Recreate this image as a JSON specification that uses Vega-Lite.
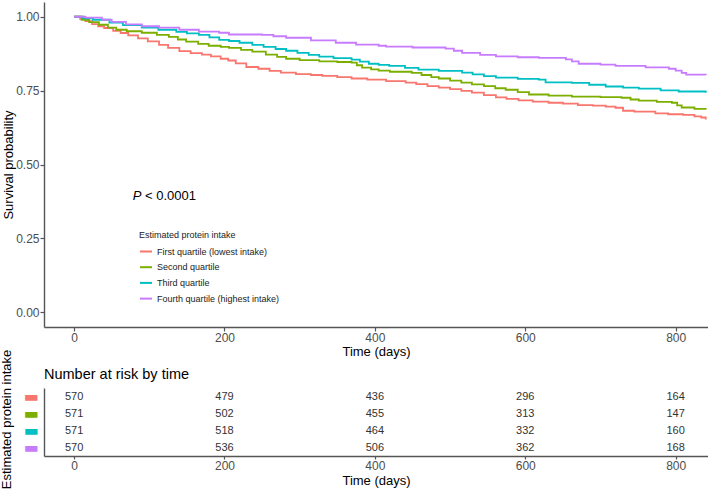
{
  "$schema": "https://vega.github.io/schema/vega-lite/v6.json",
  "padding": {"left": 0, "top": 2, "right": 0, "bottom": 0},
  "background": "white",
  "bounds": "flush",
  "spacing": 61,
  "config": {
    "font": "Liberation Sans",
    "view": {"stroke": null},
    "axis": {
      "grid": false,
      "domainColor": "#555",
      "domainWidth": 1.4,
      "tickColor": "#555",
      "tickWidth": 1.2,
      "labelColor": "#4d4d4d",
      "labelFontSize": 12,
      "labelFont": "Liberation Sans",
      "titleFont": "Liberation Sans",
      "titleFontSize": 13,
      "titleColor": "#000",
      "titleFontWeight": "normal"
    }
  },
  "datasets": {
    "surv": [
      {"g":"First quartile (lowest intake)","t":0,"s":1.0},{"g":"First quartile (lowest intake)","t":8,"s":0.993},{"g":"First quartile (lowest intake)","t":15,"s":0.985},{"g":"First quartile (lowest intake)","t":24,"s":0.975},{"g":"First quartile (lowest intake)","t":32,"s":0.968},{"g":"First quartile (lowest intake)","t":40,"s":0.962},{"g":"First quartile (lowest intake)","t":52,"s":0.952},{"g":"First quartile (lowest intake)","t":62,"s":0.945},{"g":"First quartile (lowest intake)","t":72,"s":0.937},{"g":"First quartile (lowest intake)","t":85,"s":0.927},{"g":"First quartile (lowest intake)","t":98,"s":0.917},{"g":"First quartile (lowest intake)","t":113,"s":0.905},{"g":"First quartile (lowest intake)","t":125,"s":0.895},{"g":"First quartile (lowest intake)","t":140,"s":0.884},{"g":"First quartile (lowest intake)","t":155,"s":0.877},{"g":"First quartile (lowest intake)","t":170,"s":0.872},{"g":"First quartile (lowest intake)","t":182,"s":0.866},{"g":"First quartile (lowest intake)","t":195,"s":0.858},{"g":"First quartile (lowest intake)","t":205,"s":0.852},{"g":"First quartile (lowest intake)","t":215,"s":0.842},{"g":"First quartile (lowest intake)","t":229,"s":0.830},{"g":"First quartile (lowest intake)","t":245,"s":0.824},{"g":"First quartile (lowest intake)","t":260,"s":0.817},{"g":"First quartile (lowest intake)","t":275,"s":0.811},{"g":"First quartile (lowest intake)","t":295,"s":0.806},{"g":"First quartile (lowest intake)","t":315,"s":0.803},{"g":"First quartile (lowest intake)","t":330,"s":0.800},{"g":"First quartile (lowest intake)","t":350,"s":0.796},{"g":"First quartile (lowest intake)","t":369,"s":0.791},{"g":"First quartile (lowest intake)","t":390,"s":0.787},{"g":"First quartile (lowest intake)","t":415,"s":0.782},{"g":"First quartile (lowest intake)","t":441,"s":0.777},{"g":"First quartile (lowest intake)","t":455,"s":0.772},{"g":"First quartile (lowest intake)","t":470,"s":0.765},{"g":"First quartile (lowest intake)","t":485,"s":0.760},{"g":"First quartile (lowest intake)","t":500,"s":0.755},{"g":"First quartile (lowest intake)","t":515,"s":0.749},{"g":"First quartile (lowest intake)","t":529,"s":0.743},{"g":"First quartile (lowest intake)","t":545,"s":0.735},{"g":"First quartile (lowest intake)","t":561,"s":0.727},{"g":"First quartile (lowest intake)","t":575,"s":0.722},{"g":"First quartile (lowest intake)","t":591,"s":0.717},{"g":"First quartile (lowest intake)","t":610,"s":0.713},{"g":"First quartile (lowest intake)","t":631,"s":0.709},{"g":"First quartile (lowest intake)","t":650,"s":0.706},{"g":"First quartile (lowest intake)","t":670,"s":0.701},{"g":"First quartile (lowest intake)","t":690,"s":0.699},{"g":"First quartile (lowest intake)","t":707,"s":0.696},{"g":"First quartile (lowest intake)","t":720,"s":0.692},{"g":"First quartile (lowest intake)","t":730,"s":0.682},{"g":"First quartile (lowest intake)","t":745,"s":0.679},{"g":"First quartile (lowest intake)","t":773,"s":0.673},{"g":"First quartile (lowest intake)","t":790,"s":0.670},{"g":"First quartile (lowest intake)","t":810,"s":0.668},{"g":"First quartile (lowest intake)","t":825,"s":0.663},{"g":"First quartile (lowest intake)","t":834,"s":0.659},{"g":"First quartile (lowest intake)","t":840,"s":0.652},
      {"g":"Second quartile","t":0,"s":1.0},{"g":"Second quartile","t":10,"s":0.99},{"g":"Second quartile","t":20,"s":0.982},{"g":"Second quartile","t":33,"s":0.973},{"g":"Second quartile","t":45,"s":0.963},{"g":"Second quartile","t":56,"s":0.956},{"g":"Second quartile","t":70,"s":0.951},{"g":"Second quartile","t":90,"s":0.946},{"g":"Second quartile","t":110,"s":0.939},{"g":"Second quartile","t":126,"s":0.932},{"g":"Second quartile","t":138,"s":0.923},{"g":"Second quartile","t":149,"s":0.916},{"g":"Second quartile","t":165,"s":0.908},{"g":"Second quartile","t":179,"s":0.902},{"g":"Second quartile","t":195,"s":0.898},{"g":"Second quartile","t":206,"s":0.895},{"g":"Second quartile","t":222,"s":0.888},{"g":"Second quartile","t":237,"s":0.882},{"g":"Second quartile","t":255,"s":0.872},{"g":"Second quartile","t":270,"s":0.864},{"g":"Second quartile","t":282,"s":0.858},{"g":"Second quartile","t":300,"s":0.853},{"g":"Second quartile","t":326,"s":0.849},{"g":"Second quartile","t":350,"s":0.847},{"g":"Second quartile","t":369,"s":0.845},{"g":"Second quartile","t":376,"s":0.836},{"g":"Second quartile","t":383,"s":0.828},{"g":"Second quartile","t":395,"s":0.822},{"g":"Second quartile","t":405,"s":0.818},{"g":"Second quartile","t":420,"s":0.814},{"g":"Second quartile","t":449,"s":0.810},{"g":"Second quartile","t":462,"s":0.803},{"g":"Second quartile","t":475,"s":0.796},{"g":"Second quartile","t":485,"s":0.791},{"g":"Second quartile","t":500,"s":0.784},{"g":"Second quartile","t":515,"s":0.777},{"g":"Second quartile","t":529,"s":0.771},{"g":"Second quartile","t":545,"s":0.765},{"g":"Second quartile","t":560,"s":0.758},{"g":"Second quartile","t":574,"s":0.753},{"g":"Second quartile","t":590,"s":0.745},{"g":"Second quartile","t":605,"s":0.737},{"g":"Second quartile","t":631,"s":0.733},{"g":"Second quartile","t":662,"s":0.730},{"g":"Second quartile","t":700,"s":0.728},{"g":"Second quartile","t":728,"s":0.726},{"g":"Second quartile","t":740,"s":0.720},{"g":"Second quartile","t":751,"s":0.716},{"g":"Second quartile","t":775,"s":0.712},{"g":"Second quartile","t":795,"s":0.709},{"g":"Second quartile","t":802,"s":0.700},{"g":"Second quartile","t":808,"s":0.693},{"g":"Second quartile","t":825,"s":0.688},{"g":"Second quartile","t":840,"s":0.686},
      {"g":"Third quartile","t":0,"s":1.0},{"g":"Third quartile","t":12,"s":0.995},{"g":"Third quartile","t":25,"s":0.99},{"g":"Third quartile","t":47,"s":0.980},{"g":"Third quartile","t":65,"s":0.972},{"g":"Third quartile","t":90,"s":0.963},{"g":"Third quartile","t":112,"s":0.956},{"g":"Third quartile","t":136,"s":0.949},{"g":"Third quartile","t":150,"s":0.944},{"g":"Third quartile","t":166,"s":0.939},{"g":"Third quartile","t":180,"s":0.930},{"g":"Third quartile","t":193,"s":0.922},{"g":"Third quartile","t":206,"s":0.918},{"g":"Third quartile","t":220,"s":0.912},{"g":"Third quartile","t":237,"s":0.905},{"g":"Third quartile","t":252,"s":0.898},{"g":"Third quartile","t":268,"s":0.891},{"g":"Third quartile","t":282,"s":0.885},{"g":"Third quartile","t":297,"s":0.878},{"g":"Third quartile","t":312,"s":0.871},{"g":"Third quartile","t":326,"s":0.865},{"g":"Third quartile","t":345,"s":0.860},{"g":"Third quartile","t":369,"s":0.855},{"g":"Third quartile","t":380,"s":0.848},{"g":"Third quartile","t":392,"s":0.841},{"g":"Third quartile","t":405,"s":0.837},{"g":"Third quartile","t":419,"s":0.834},{"g":"Third quartile","t":440,"s":0.827},{"g":"Third quartile","t":458,"s":0.821},{"g":"Third quartile","t":485,"s":0.817},{"g":"Third quartile","t":516,"s":0.811},{"g":"Third quartile","t":530,"s":0.805},{"g":"Third quartile","t":545,"s":0.799},{"g":"Third quartile","t":561,"s":0.794},{"g":"Third quartile","t":590,"s":0.790},{"g":"Third quartile","t":618,"s":0.787},{"g":"Third quartile","t":627,"s":0.778},{"g":"Third quartile","t":662,"s":0.776},{"g":"Third quartile","t":685,"s":0.770},{"g":"Third quartile","t":707,"s":0.764},{"g":"Third quartile","t":730,"s":0.760},{"g":"Third quartile","t":751,"s":0.757},{"g":"Third quartile","t":780,"s":0.751},{"g":"Third quartile","t":804,"s":0.747},{"g":"Third quartile","t":840,"s":0.743},
      {"g":"Fourth quartile (highest intake)","t":0,"s":1.0},{"g":"Fourth quartile (highest intake)","t":15,"s":0.997},{"g":"Fourth quartile (highest intake)","t":37,"s":0.990},{"g":"Fourth quartile (highest intake)","t":50,"s":0.983},{"g":"Fourth quartile (highest intake)","t":69,"s":0.974},{"g":"Fourth quartile (highest intake)","t":90,"s":0.968},{"g":"Fourth quartile (highest intake)","t":113,"s":0.963},{"g":"Fourth quartile (highest intake)","t":140,"s":0.956},{"g":"Fourth quartile (highest intake)","t":166,"s":0.950},{"g":"Fourth quartile (highest intake)","t":193,"s":0.946},{"g":"Fourth quartile (highest intake)","t":206,"s":0.940},{"g":"Fourth quartile (highest intake)","t":250,"s":0.939},{"g":"Fourth quartile (highest intake)","t":265,"s":0.934},{"g":"Fourth quartile (highest intake)","t":282,"s":0.929},{"g":"Fourth quartile (highest intake)","t":315,"s":0.920},{"g":"Fourth quartile (highest intake)","t":348,"s":0.912},{"g":"Fourth quartile (highest intake)","t":375,"s":0.906},{"g":"Fourth quartile (highest intake)","t":405,"s":0.902},{"g":"Fourth quartile (highest intake)","t":415,"s":0.899},{"g":"Fourth quartile (highest intake)","t":450,"s":0.896},{"g":"Fourth quartile (highest intake)","t":494,"s":0.892},{"g":"Fourth quartile (highest intake)","t":505,"s":0.885},{"g":"Fourth quartile (highest intake)","t":516,"s":0.878},{"g":"Fourth quartile (highest intake)","t":540,"s":0.871},{"g":"Fourth quartile (highest intake)","t":561,"s":0.866},{"g":"Fourth quartile (highest intake)","t":590,"s":0.863},{"g":"Fourth quartile (highest intake)","t":618,"s":0.861},{"g":"Fourth quartile (highest intake)","t":654,"s":0.856},{"g":"Fourth quartile (highest intake)","t":662,"s":0.849},{"g":"Fourth quartile (highest intake)","t":671,"s":0.841},{"g":"Fourth quartile (highest intake)","t":700,"s":0.838},{"g":"Fourth quartile (highest intake)","t":720,"s":0.834},{"g":"Fourth quartile (highest intake)","t":760,"s":0.829},{"g":"Fourth quartile (highest intake)","t":791,"s":0.824},{"g":"Fourth quartile (highest intake)","t":800,"s":0.818},{"g":"Fourth quartile (highest intake)","t":808,"s":0.810},{"g":"Fourth quartile (highest intake)","t":814,"s":0.804},{"g":"Fourth quartile (highest intake)","t":840,"s":0.803}
    ],
    "risk": [
      {"g":"First quartile (lowest intake)","t":0,"n":570},{"g":"First quartile (lowest intake)","t":200,"n":479},{"g":"First quartile (lowest intake)","t":400,"n":436},{"g":"First quartile (lowest intake)","t":600,"n":296},{"g":"First quartile (lowest intake)","t":800,"n":164},
      {"g":"Second quartile","t":0,"n":571},{"g":"Second quartile","t":200,"n":502},{"g":"Second quartile","t":400,"n":455},{"g":"Second quartile","t":600,"n":313},{"g":"Second quartile","t":800,"n":147},
      {"g":"Third quartile","t":0,"n":571},{"g":"Third quartile","t":200,"n":518},{"g":"Third quartile","t":400,"n":464},{"g":"Third quartile","t":600,"n":332},{"g":"Third quartile","t":800,"n":160},
      {"g":"Fourth quartile (highest intake)","t":0,"n":570},{"g":"Fourth quartile (highest intake)","t":200,"n":536},{"g":"Fourth quartile (highest intake)","t":400,"n":506},{"g":"Fourth quartile (highest intake)","t":600,"n":362},{"g":"Fourth quartile (highest intake)","t":800,"n":168}
    ],
    "pval": [
      {"t":78,"s":0.395,"label":"P","rest":"< 0.0001"}
    ]
  },
  "vconcat": [
    {
      "width": 664,
      "height": 325,
      "layer": [
        {
          "data": {"name": "surv"},
          "mark": {"type": "line", "interpolate": "step-after", "strokeWidth": 1.8, "clip": true},
          "encoding": {
            "x": {"field": "t", "type": "quantitative", "scale": {"domain": [-40, 843], "nice": false, "zero": false},
                  "axis": {"values": [0, 200, 400, 600, 800], "title": "Time (days)", "tickSize": 4, "labelPadding": 1, "titlePadding": 2}},
            "y": {"field": "s", "type": "quantitative", "scale": {"domain": [-0.05, 1.05], "nice": false, "zero": false},
                  "axis": {"values": [0, 0.25, 0.5, 0.75, 1], "format": ".2f", "title": "Survival probability", "tickSize": 4, "labelPadding": 1, "titlePadding": 0}},
            "color": {
              "field": "g", "type": "nominal",
              "scale": {"domain": ["First quartile (lowest intake)", "Second quartile", "Third quartile", "Fourth quartile (highest intake)"],
                        "range": ["#F8766D", "#7CAE00", "#00BFC4", "#C77CFF"]},
              "legend": {"title": "Estimated protein intake", "orient": "none", "legendX": 95, "legendY": 229,
                         "titleFontSize": 9, "titleFontWeight": "normal", "titleColor": "#222", "titleFont": "Liberation Sans",
                         "labelFontSize": 9, "labelColor": "#222", "labelFont": "Liberation Sans",
                         "symbolType": "stroke", "symbolSize": 144, "symbolStrokeWidth": 2,
                         "rowPadding": 3.7, "titlePadding": 4.5, "labelOffset": 4, "padding": 0}
            }
          }
        },
        {
          "data": {"name": "pval"},
          "mark": {"type": "text", "align": "left", "baseline": "middle", "fontSize": 13, "fontStyle": "italic", "color": "#000"},
          "encoding": {
            "x": {"field": "t", "type": "quantitative"},
            "y": {"field": "s", "type": "quantitative"},
            "text": {"field": "label"}
          }
        },
        {
          "data": {"name": "pval"},
          "mark": {"type": "text", "align": "left", "baseline": "middle", "fontSize": 13, "dx": 12.3, "color": "#000"},
          "encoding": {
            "x": {"field": "t", "type": "quantitative"},
            "y": {"field": "s", "type": "quantitative"},
            "text": {"field": "rest"}
          }
        }
      ]
    },
    {
      "width": 664,
      "height": 68,
      "title": {"text": "Number at risk by time", "anchor": "start", "frame": "group", "fontSize": 14.5, "fontWeight": "normal", "offset": 6, "dy": 39, "color": "#000", "font": "Liberation Sans"},
      "data": {"name": "risk"},
      "mark": {"type": "text", "fontSize": 11, "color": "#333"},
      "encoding": {
        "x": {"field": "t", "type": "quantitative", "scale": {"domain": [-40, 843], "nice": false, "zero": false},
              "axis": {"values": [0, 200, 400, 600, 800], "title": "Time (days)", "tickSize": 3, "labelPadding": 1, "titlePadding": 3}},
        "y": {"field": "g", "type": "nominal",
              "scale": {"domain": ["First quartile (lowest intake)", "Second quartile", "Third quartile", "Fourth quartile (highest intake)"]},
              "axis": {"labelExpr": "'▬'", "labelFont": "DejaVu Sans", "labelFontSize": 16, "ticks": false, "labelPadding": 6,
                       "title": "Estimated protein intake", "titlePadding": 9, "titleY": 31,
                       "labelColor": {"condition": [
                         {"test": "datum.value === 'First quartile (lowest intake)'", "value": "#F8766D"},
                         {"test": "datum.value === 'Second quartile'", "value": "#7CAE00"},
                         {"test": "datum.value === 'Third quartile'", "value": "#00BFC4"}
                       ], "value": "#C77CFF"}}},
        "text": {"field": "n", "type": "quantitative"}
      }
    }
  ]
}
